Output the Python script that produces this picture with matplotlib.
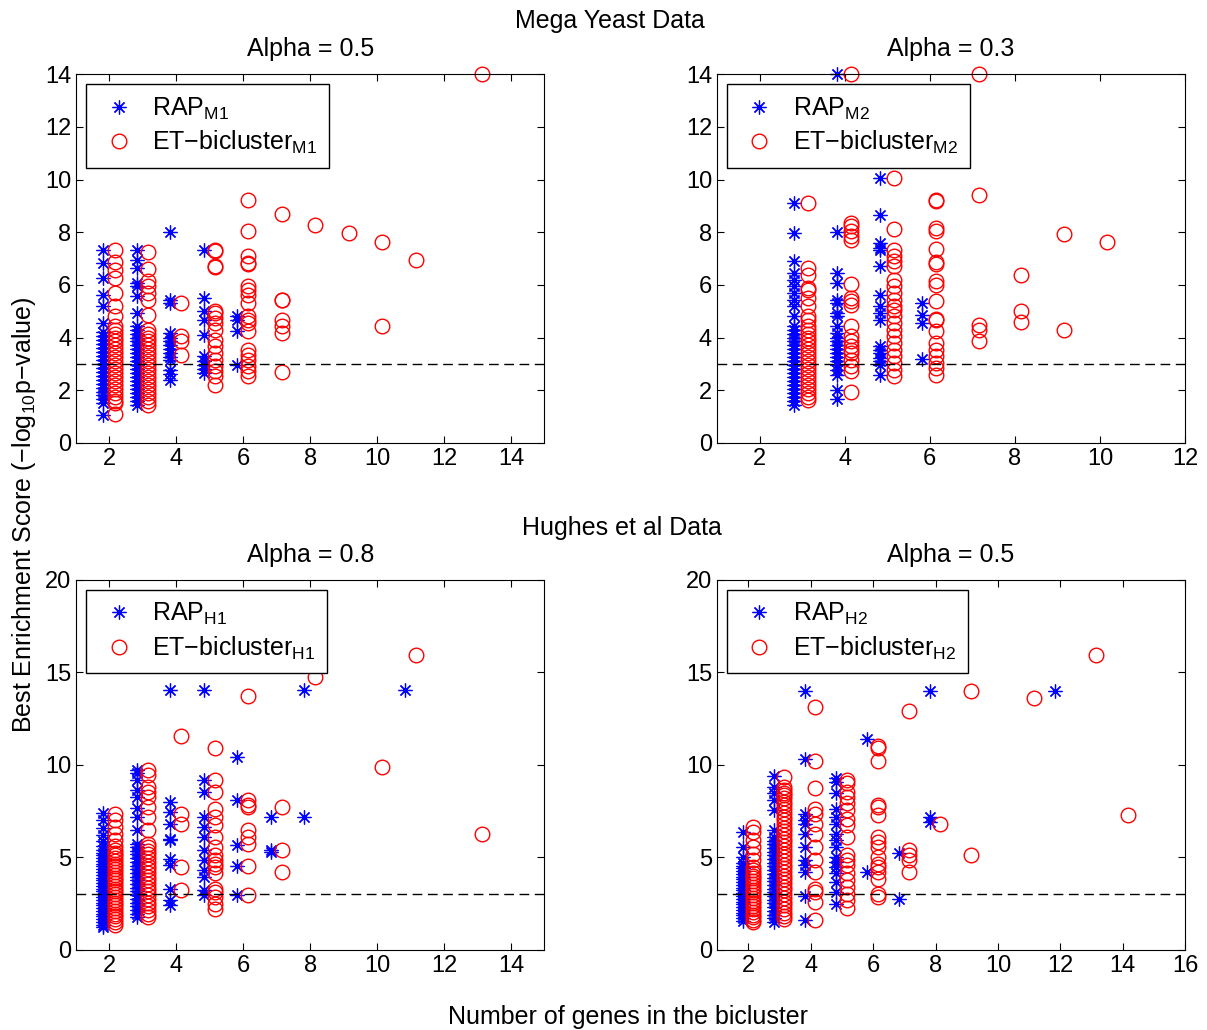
import matplotlib
matplotlib.use('Agg')
import matplotlib.pyplot as plt

plt.rcParams['font.family'] = ['Liberation Sans', 'DejaVu Sans']
plt.rcParams['mathtext.fontset'] = 'custom'
plt.rcParams['mathtext.rm'] = 'Liberation Sans'
plt.rcParams['mathtext.it'] = 'Liberation Sans'
plt.rcParams['font.size'] = 18

# best enrichment scores, keyed by number of genes in the bicluster
rap_m1 = {
    2: [7.31, 6.83, 6.26, 5.63, 5.18, 4.55, 4.2, 4.05, 3.9, 3.75, 3.6, 3.45, 3.3, 3.15, 3.0,
        2.85, 2.7, 2.55, 2.4, 2.25, 2.1, 1.95, 1.8, 1.65, 1.52, 1.07],
    3: [7.31, 6.95, 6.64, 6.07, 5.94, 5.56, 4.93, 4.42, 4.3, 4.15, 4.0, 3.85, 3.7, 3.55, 3.4,
        3.25, 3.1, 2.95, 2.8, 2.65, 2.5, 2.35, 2.2, 2.05, 1.9, 1.75, 1.6, 1.45],
    4: [8.0, 5.44, 5.3, 4.17, 4.0, 3.85, 3.7, 3.55, 3.4, 3.25, 3.16, 2.78, 2.6, 2.4],
    5: [7.31, 5.5, 5.0, 4.68, 4.1, 3.29, 3.1, 2.95, 2.8, 2.65],
    6: [4.8, 4.68, 4.24, 2.97],
}
et_m1 = {
    2: [7.31, 6.85, 6.57, 6.26, 5.69, 5.18, 4.8, 4.42, 4.3, 4.15, 4.0, 3.85, 3.7, 3.55, 3.4,
        3.25, 3.1, 2.95, 2.8, 2.65, 2.5, 2.35, 2.2, 2.05, 1.9, 1.75, 1.6, 1.5, 1.11],
    3: [7.23, 6.6, 6.13, 5.94, 5.69, 5.44, 4.87, 4.3, 4.15, 4.0, 3.85, 3.7, 3.55, 3.4, 3.25,
        3.1, 2.95, 2.8, 2.65, 2.5, 2.35, 2.2, 2.05, 1.9, 1.75, 1.6, 1.45],
    4: [5.33, 4.05, 3.85, 3.35],
    5: [7.31, 7.27, 6.72, 6.67, 5.0, 4.93, 4.74, 4.55, 4.3, 3.92, 3.67, 3.41, 3.16, 2.91,
        2.72, 2.53, 2.21],
    6: [9.23, 8.03, 7.1, 6.83, 6.8, 5.94, 5.82, 5.63, 5.31, 4.8, 4.68, 4.55, 4.24, 3.54,
        3.35, 3.16, 2.91, 2.72, 2.53],
    7: [8.7, 5.44, 5.41, 4.68, 4.42, 4.17, 2.68],
    8: [10.77, 8.28],
    9: [7.96],
    10: [7.62, 4.42],
    11: [6.93],
    13: [14.0],
}

rap_m2 = {
    3: [9.1, 7.96, 6.89, 6.45, 6.2, 5.94, 5.69, 5.44, 5.18, 4.8, 4.42, 4.3, 4.15, 4.0, 3.85,
        3.7, 3.55, 3.4, 3.25, 3.1, 2.95, 2.8, 2.65, 2.5, 2.35, 2.2, 2.05, 1.9, 1.75, 1.6, 1.45],
    4: [14.0, 7.99, 6.45, 6.07, 5.44, 5.31, 4.93, 4.8, 4.42, 4.17, 4.0, 3.85, 3.7, 3.55, 3.4,
        3.25, 3.1, 2.95, 2.78, 2.59, 2.02, 1.67],
    5: [10.05, 8.66, 7.59, 7.4, 7.31, 6.7, 5.63, 5.18, 4.93, 4.68, 3.67, 3.54, 3.41, 3.22,
        3.1, 2.97, 2.59],
    6: [5.31, 4.87, 4.55, 3.19],
}
et_m2 = {
    3: [9.1, 6.64, 6.38, 5.88, 5.82, 5.5, 5.18, 4.8, 4.68, 4.42, 4.3, 4.15, 4.0, 3.85, 3.7,
        3.55, 3.4, 3.25, 3.1, 2.95, 2.8, 2.65, 2.5, 2.35, 2.2, 2.05, 1.9, 1.75, 1.64],
    4: [14.0, 8.34, 8.22, 8.03, 7.84, 7.71, 6.04, 5.5, 5.37, 5.25, 4.42, 4.05, 3.86, 3.67,
        3.54, 3.41, 3.16, 2.91, 2.72, 1.93],
    5: [10.05, 8.13, 7.33, 7.08, 6.89, 6.7, 6.19, 5.94, 5.69, 5.44, 5.18, 5.06, 4.8, 4.55,
        4.3, 4.05, 3.79, 3.54, 3.29, 3.03, 2.78, 2.53],
    6: [9.23, 9.2, 8.15, 8.03, 7.36, 6.85, 6.8, 6.13, 6.0, 5.37, 4.7, 4.65, 4.24, 3.79,
        3.54, 3.29, 3.03, 2.85, 2.59],
    7: [14.0, 9.42, 4.49, 4.3, 3.86],
    8: [6.38, 5.02, 4.59],
    9: [7.94, 4.3],
    10: [7.62],
}

rap_h1 = {
    2: [7.4, 7.0, 6.6, 6.2, 5.9, 5.6, 5.4, 5.25, 5.1, 4.95, 4.8, 4.65, 4.5, 4.35, 4.2, 4.05,
        3.9, 3.75, 3.6, 3.45, 3.3, 3.15, 3.0, 2.85, 2.7, 2.55, 2.4, 2.25, 2.1, 1.95, 1.8,
        1.65, 1.5, 1.35, 1.23],
    3: [9.71, 9.53, 9.17, 8.63, 8.27, 7.64, 7.18, 6.46, 5.74, 5.55, 5.35, 5.15, 4.95, 4.75,
        4.55, 4.35, 4.15, 3.95, 3.75, 3.55, 3.35, 3.15, 2.95, 2.75, 2.55, 2.35, 2.15, 1.95,
        1.77],
    4: [14.04, 8.0, 7.45, 6.82, 6.01, 5.92, 4.93, 4.57, 3.3, 2.67, 2.4],
    5: [14.04, 9.2, 8.54, 7.18, 6.64, 6.1, 5.38, 4.84, 4.3, 3.93, 3.21, 2.94],
    6: [10.43, 8.09, 5.65, 4.51, 2.94],
    7: [7.18, 5.38, 5.29],
    8: [14.04, 7.18],
    11: [14.04],
}
et_h1 = {
    2: [7.36, 7.0, 6.64, 6.28, 5.92, 5.6, 5.4, 5.25, 5.1, 4.95, 4.8, 4.65, 4.5, 4.35, 4.2,
        4.05, 3.9, 3.75, 3.6, 3.45, 3.3, 3.15, 3.0, 2.85, 2.7, 2.55, 2.4, 2.25, 2.1, 1.95,
        1.8, 1.65, 1.5, 1.35],
    3: [9.71, 9.44, 8.81, 8.54, 8.27, 7.69, 7.18, 6.46, 5.74, 5.55, 5.35, 5.15, 4.95, 4.75,
        4.55, 4.35, 4.15, 3.95, 3.75, 3.55, 3.35, 3.15, 2.95, 2.75, 2.55, 2.35, 2.15, 1.95,
        1.77],
    4: [11.57, 7.36, 6.82, 4.48, 3.21],
    5: [10.92, 9.2, 8.54, 7.63, 7.18, 6.73, 6.1, 5.56, 5.11, 4.84, 4.66, 4.48, 4.12, 3.3,
        3.12, 2.85, 2.49, 2.22],
    6: [13.74, 8.09, 7.82, 7.73, 6.46, 6.1, 5.74, 4.51, 2.94],
    7: [7.73, 5.38, 4.21],
    8: [14.73],
    10: [9.89],
    11: [15.94],
    13: [6.23],
}

rap_h2 = {
    2: [6.37, 5.56, 5.0, 4.7, 4.55, 4.4, 4.25, 4.1, 3.95, 3.8, 3.65, 3.5, 3.35, 3.2, 3.05,
        2.9, 2.75, 2.6, 2.45, 2.3, 2.15, 2.0, 1.85, 1.7, 1.55],
    3: [9.4, 8.8, 8.45, 8.09, 7.54, 6.46, 6.1, 5.9, 5.7, 5.5, 5.3, 5.1, 4.9, 4.7, 4.5, 4.3,
        4.1, 3.9, 3.7, 3.5, 3.3, 3.1, 2.9, 2.7, 2.5, 2.3, 2.1, 1.9, 1.7, 1.52],
    4: [14.0, 10.3, 7.36, 7.0, 6.82, 6.28, 5.56, 4.84, 4.57, 4.21, 2.89, 1.59],
    5: [9.26, 9.08, 8.45, 7.63, 7.18, 6.82, 6.28, 5.92, 5.56, 5.02, 4.75, 4.48, 4.12, 3.66,
        3.12, 2.49],
    6: [11.39, 4.21],
    7: [5.25, 2.76],
    8: [14.0, 7.15, 6.91],
    12: [14.0],
}
et_h2 = {
    2: [6.64, 6.37, 5.92, 5.56, 5.2, 4.84, 4.48, 4.3, 4.15, 4.0, 3.85, 3.7, 3.55, 3.4, 3.25,
        3.1, 2.95, 2.8, 2.65, 2.5, 2.35, 2.2, 2.05, 1.9, 1.75, 1.6, 1.52],
    3: [9.35, 8.8, 8.65, 8.5, 8.35, 8.2, 8.0, 7.8, 7.6, 7.4, 7.2, 7.0, 6.8, 6.6, 6.4, 6.2,
        6.0, 5.8, 5.6, 5.4, 5.2, 5.0, 4.8, 4.6, 4.4, 4.2, 4.0, 3.8, 3.6, 3.4, 3.2, 3.0, 2.8,
        2.6, 2.4, 2.2, 2.0, 1.84, 1.68],
    4: [13.14, 10.22, 8.72, 7.63, 7.36, 6.82, 6.28, 5.56, 4.84, 4.21, 3.3, 3.12, 2.58, 1.59],
    5: [9.17, 8.99, 8.54, 8.27, 7.91, 7.54, 7.09, 6.73, 6.1, 5.11, 4.84, 4.57, 4.12, 3.75,
        3.39, 3.03, 2.67, 2.27],
    6: [11.01, 10.92, 10.22, 7.82, 7.69, 7.27, 6.1, 5.83, 5.56, 5.02, 4.66, 4.48, 4.21, 3.84,
        3.03, 2.85],
    7: [12.9, 5.38, 5.11, 4.84, 4.21],
    8: [6.82],
    9: [14.0, 5.11],
    11: [13.63],
    13: [15.94],
    14: [7.31],
}

panels = [
    (rap_m1, et_m1, 'M1', 'Alpha = 0.5', (1, 15), range(2, 15, 2), (0, 14), range(0, 15, 2)),
    (rap_m2, et_m2, 'M2', 'Alpha = 0.3', (1, 12), range(2, 13, 2), (0, 14), range(0, 15, 2)),
    (rap_h1, et_h1, 'H1', 'Alpha = 0.8', (1, 15), range(2, 15, 2), (0, 20), range(0, 21, 5)),
    (rap_h2, et_h2, 'H2', 'Alpha = 0.5', (1, 16), range(2, 17, 2), (0, 20), range(0, 21, 5)),
]
threshold = 3

fig = plt.figure(figsize=(12.07, 10.3), dpi=100)
positions = [
    [0.063, 0.570, 0.388, 0.358],
    [0.594, 0.570, 0.388, 0.358],
    [0.063, 0.078, 0.388, 0.359],
    [0.594, 0.078, 0.388, 0.359],
]

asterisk = (8, 2, 0)

for pos, (rap, et, tag, title, xlim, xt, ylim, yt) in zip(positions, panels):
    ax = fig.add_axes(pos)
    rx = [n - 0.18 for n, vals in rap.items() for v in vals]
    ry = [v for n, vals in rap.items() for v in vals]
    ex = [n + 0.15 for n, vals in et.items() for v in vals]
    ey = [v for n, vals in et.items() for v in vals]
    ax.plot(rx, ry, linestyle='none', marker=asterisk, markersize=10, markeredgewidth=0.9,
            color='#0000ff', label=r'RAP$_{\mathrm{%s}}$' % tag, clip_on=False)
    ax.plot(ex, ey, linestyle='none', marker='o', markersize=10.5, markeredgewidth=1,
            markerfacecolor='none', markeredgecolor='#ff0000',
            label='ET\u2212bicluster$_{\\mathrm{%s}}$' % tag, clip_on=False)
    ax.axhline(threshold, color='k', linewidth=1, dashes=(7, 4), zorder=3)
    ax.set_xlim(*xlim)
    ax.set_ylim(*ylim)
    ax.set_xticks(list(xt))
    ax.set_yticks(list(yt))
    ax.tick_params(direction='in', top=True, right=True, length=5, width=0.8, labelsize=17)
    ax.set_title(title, fontsize=18, pad=13)
    leg = ax.legend(loc='upper left', fancybox=False, framealpha=1, edgecolor='k',
                    numpoints=1, fontsize=18, borderaxespad=0.4, handletextpad=0.5,
                    labelspacing=0.3, borderpad=0.45, handlelength=1.7)
    leg.get_frame().set_linewidth(1)
    leg.set_zorder(5)

fig.text(0.505, 0.980, 'Mega Yeast Data', ha='center', va='center', fontsize=18)
fig.text(0.515, 0.487, 'Hughes et al Data', ha='center', va='center', fontsize=18)
fig.text(0.52, 0.013, 'Number of genes in the bicluster', ha='center', va='center', fontsize=18)
fig.text(0.02, 0.5, 'Best Enrichment Score (\u2212log$_{10}$p\u2212value)', ha='center',
         va='center', rotation=90, fontsize=18)

fig.savefig('out.png', dpi=100)
